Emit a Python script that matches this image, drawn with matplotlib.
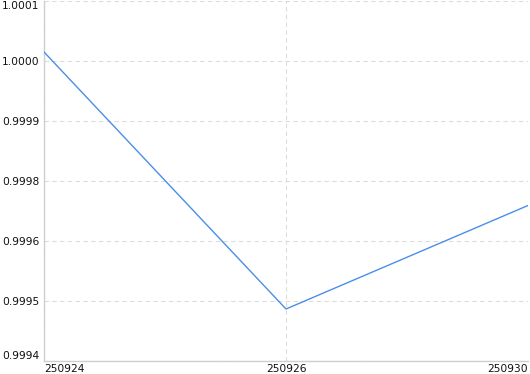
import matplotlib
matplotlib.use("Agg")
import matplotlib.pyplot as plt
import numpy as np

# data
dates  = ["250924", "250926", "250930"]
values = [1.000018, 0.999504, 0.999711]

y_ticks  = [0.9994, 0.99952, 0.99964, 0.99976, 0.99988, 1.0, 1.00012]
y_labels = ["0.9994", "0.9995", "0.9996", "0.9998", "0.9999", "1.0000", "1.0001"]

LINE = "#4a8fe7"
GRID = "#dcdcdc"
AXIS = "#cfcfcf"
TEXT = "#111111"

fig = plt.figure(figsize=(5.3, 3.74), dpi=100, facecolor="white")
ax = fig.add_axes([44 / 530, 13 / 374, 484 / 530, 360 / 374])

x = np.arange(len(dates))
ax.plot(x, values, color=LINE, linewidth=1.0, zorder=3)

ax.set_xlim(0, len(dates) - 1)
ax.set_ylim(y_ticks[0], y_ticks[-1])

ax.set_xticks(x)
ax.set_xticklabels(dates, fontsize=7.7, color=TEXT)
ax.set_yticks(y_ticks)
ax.set_yticklabels(y_labels, fontsize=7.7, color=TEXT)

# edge labels kept inside the figure
xl = ax.get_xticklabels()
xl[0].set_ha("left")
xl[-1].set_ha("right")
yl = ax.get_yticklabels()
yl[0].set_va("bottom")
yl[-1].set_va("top")

ax.tick_params(axis="both", length=0, pad=3)
ax.tick_params(axis="x", pad=2)

ax.grid(True, color=GRID, linestyle=(0, (4, 3)), linewidth=0.8, zorder=0)
ax.set_axisbelow(True)

for s in ["top", "right"]:
    ax.spines[s].set_visible(False)
for s in ["left", "bottom"]:
    ax.spines[s].set_color(AXIS)
    ax.spines[s].set_linewidth(1.0)

fig.savefig("out.png", dpi=100, facecolor="white")
